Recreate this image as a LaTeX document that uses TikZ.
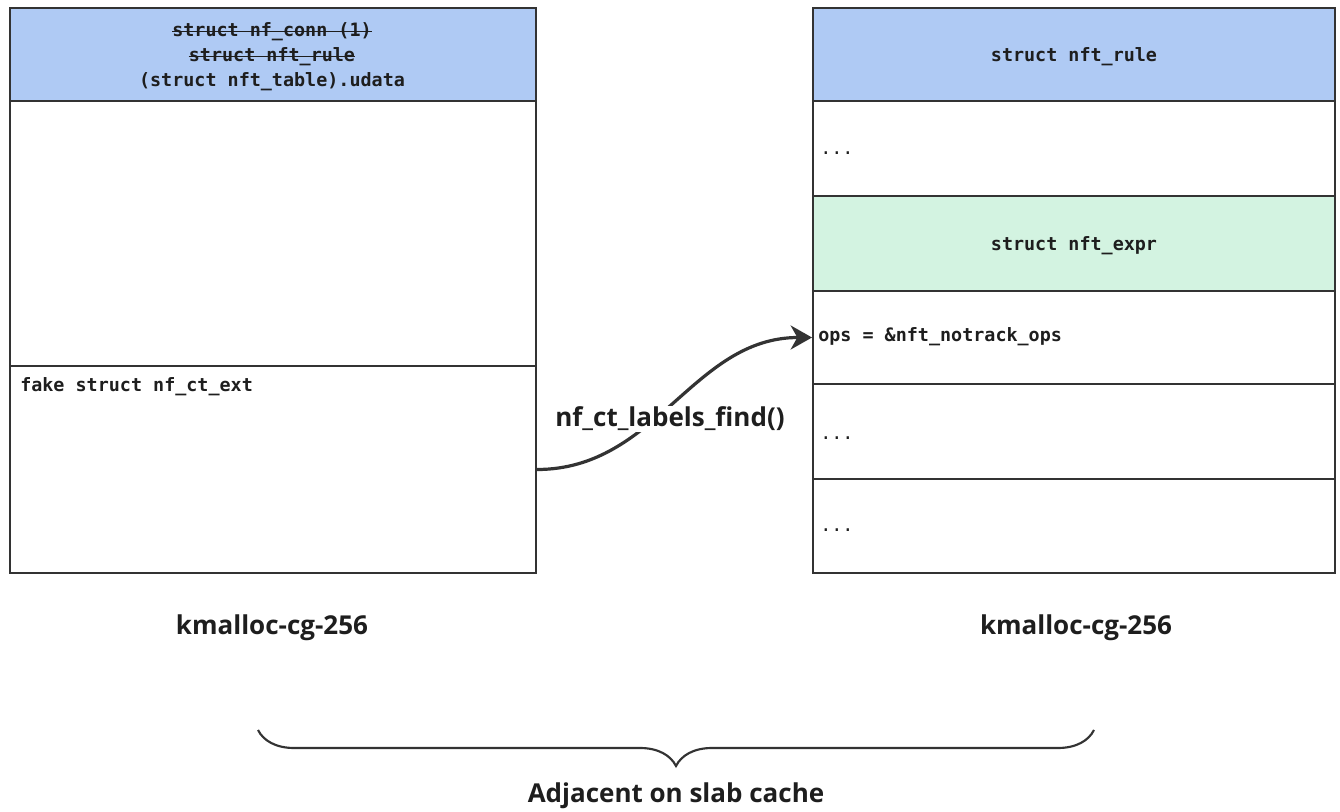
\documentclass[tikz,border=0pt]{standalone}
\usepackage{fontspec}
\setmainfont{Open Sans}
\setmonofont{DejaVu Sans Mono}
\usetikzlibrary{arrows.meta,decorations.pathreplacing}
\definecolor{hdrblue}{HTML}{AFCAF4}
\definecolor{exprgreen}{HTML}{D3F3E1}
\definecolor{linec}{HTML}{333333}
\definecolor{txt}{HTML}{1E1E1E}
\begin{document}
\begin{tikzpicture}[x=0.75pt,y=-0.75pt,
  cell/.style={draw=linec, line width=1.5pt, inner sep=0pt, anchor=north west},
  lcell/.style={cell, minimum width=394.5pt},
  rcell/.style={cell, minimum width=391.5pt},
  mono/.style={font=\ttfamily\bfseries\fontsize{13.8}{18.75}\selectfont, text=txt, inner sep=0pt},
  monoreg/.style={font=\ttfamily\fontsize{13.8}{18.75}\selectfont, text=txt, inner sep=0pt},
  big/.style={font=\bfseries\fontsize{19.5}{22}\selectfont, text=txt},
  strike/.style={draw=txt, line width=1pt},
  conn/.style={draw=linec, line width=2.4pt, -{Stealth[length=16pt,width=18pt,inset=5pt]}},
  bracestyle/.style={draw=linec, line width=1.6pt, decorate, decoration={brace, mirror, amplitude=27pt}}
]
\useasboundingbox (0,0) rectangle (1340,812);
\fill[white] (0,0) rectangle (1340,812);

% left slab object
\node[lcell, fill=hdrblue, minimum height=69.75pt] (lhdr) at (9,7) {};
\node[lcell, fill=white, minimum height=198.75pt] (lmid) at (9,100) {};
\node[lcell, fill=white, minimum height=155.25pt] (llow) at (9,365) {};

% right slab object
\node[rcell, fill=hdrblue, minimum height=69.75pt] (rhdr) at (812,7) {};
\node[rcell, fill=white, minimum height=71.25pt] (rdots1) at (812,100) {};
\node[rcell, fill=exprgreen, minimum height=71.25pt] (rexpr) at (812,195) {};
\node[rcell, fill=white, minimum height=69.75pt] (rops) at (812,290) {};
\node[rcell, fill=white, minimum height=71.25pt] (rdots2) at (812,383) {};
\node[rcell, fill=white, minimum height=70.5pt] (rdots3) at (812,478) {};

% texts
\node[mono] (h1) at (272,32) {struct nf\_conn (1)};
\node[mono] (h2) at (272,57) {struct nft\_rule};
\node[mono] (h3) at (272,82) {(struct nft\_table).udata};
\draw[strike] ([yshift=0.5pt]h1.west) -- ([yshift=0.5pt]h1.east);
\draw[strike] ([yshift=0.5pt]h2.west) -- ([yshift=0.5pt]h2.east);
\node[mono, anchor=west] (faketxt) at (20,387) {fake struct nf\_ct\_ext};
\node[mono] (rhdrtxt) at ([yshift=-1.5pt]rhdr.center) {struct nft\_rule};
\node[monoreg, anchor=west] (d1) at (820,153) {...};
\node[mono] (exprtxt) at ([yshift=-1.5pt]rexpr.center) {struct nft\_expr};
\node[mono, anchor=west] (opstxt) at (818,337) {ops = \&nft\_notrack\_ops};
\node[monoreg, anchor=west] (d2) at (820,438) {...};
\node[monoreg, anchor=west] (d3) at (820,530) {...};

% connector
\draw[conn] (llow.east) to[out=0,in=180] (rops.west);
\node[big, fill=white, inner sep=1pt] (fn) at (670,419) {nf\_ct\_labels\_find()};

% captions
\node[big] (lcap) at (272,628) {kmalloc-cg-256};
\node[big] (rcap) at (1076,628) {kmalloc-cg-256};

% brace
\coordinate (bl) at (258,730);
\coordinate (br) at (1094,730);
\draw[bracestyle] (bl) -- (br);
\node[big] (adj) at (676,796) {Adjacent on slab cache};
\end{tikzpicture}
\end{document}
